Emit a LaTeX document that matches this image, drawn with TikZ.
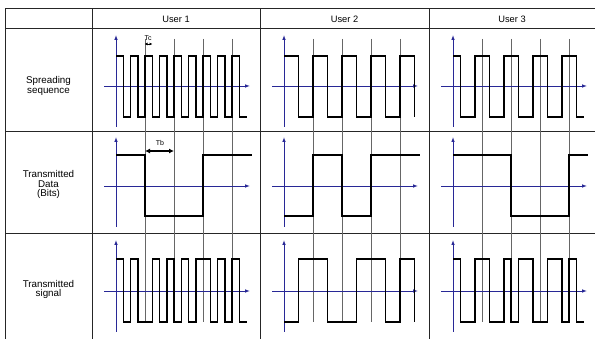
\documentclass[tikz,border=0pt]{standalone}
\usepackage{fontspec}
\setmainfont{Liberation Sans}
\usetikzlibrary{arrows.meta}
\definecolor{axisblue}{RGB}{40,40,150}
\tikzset{
  tableline/.style={line width=1pt, draw=black!85},
  gridline/.style={line width=0.7pt, draw=black!60},
  axisline/.style={line width=0.9pt, draw=axisblue, -{Latex[length=5pt,width=3.6pt]}},
  wave/.style={line width=1.5pt, draw=black, line join=miter},
  hdr/.style={font=\fontsize{9.3}{9.5}\selectfont, inner sep=0pt},
  rowlbl/.style={font=\fontsize{9.8}{9.6}\selectfont, align=center, inner sep=0pt},
  smalllbl/.style={font=\fontsize{7}{7}\selectfont, inner sep=0pt},
}
\begin{document}
\begin{tikzpicture}[x=1pt,y=-1pt]
\useasboundingbox (0,0) rectangle (595,339);
\fill[white] (0,0) rectangle (595,339);

% table
\draw[tableline] (5,9) -- (595,9);
\draw[tableline] (5,29) -- (595,29);
\draw[tableline] (5,132) -- (595,132);
\draw[tableline] (5,233.5) -- (595,233.5);
\foreach \xx in {5,92,260,429} \draw[tableline] (\xx,9) -- (\xx,339);

% headers
\node[hdr] (u1) at (176,19.5) {User 1};
\node[hdr] (u2) at (344.5,19.5) {User 2};
\node[hdr] (u3) at (512,19.5) {User 3};
\node[rowlbl] (r1) at (48.5,86) {Spreading\\sequence};
\node[rowlbl] (r2) at (48.5,184.5) {Transmitted\\Data\\(Bits)};
\node[rowlbl] (r3) at (48.5,289.5) {Transmitted\\signal};

% grid lines
\foreach \xo in {116,284,453}
  \foreach \k in {1,2,3,4}
    \draw[gridline] ({\xo+29*\k},39) -- ({\xo+29*\k},322);

% axes
\foreach \xo in {116,284,453}{
  \draw[axisline] (\xo,127) -- (\xo,35);
  \draw[axisline] ({\xo-12},86) -- ({\xo+134},86);
  \draw[axisline] (\xo,227) -- (\xo,137);
  \draw[axisline] ({\xo-12},186) -- ({\xo+134},186);
  \draw[axisline] (\xo,332) -- (\xo,240);
  \draw[axisline] ({\xo-12},291) -- ({\xo+134},291);
}

% row 1: spreading sequences
\draw[wave] (116,56)
  -- ++(7.25,0) -- ++(0,61) -- ++(7.25,0) -- ++(0,-61)
  -- ++(7.25,0) -- ++(0,61) -- ++(7.25,0) -- ++(0,-61)
  -- ++(7.25,0) -- ++(0,61) -- ++(7.25,0) -- ++(0,-61)
  -- ++(7.25,0) -- ++(0,61) -- ++(7.25,0) -- ++(0,-61)
  -- ++(7.25,0) -- ++(0,61) -- ++(7.25,0) -- ++(0,-61)
  -- ++(7.25,0) -- ++(0,61) -- ++(7.25,0) -- ++(0,-61)
  -- ++(7.25,0) -- ++(0,61) -- ++(7.25,0) -- ++(0,-61)
  -- ++(7.25,0) -- ++(0,61) -- ++(7.25,0) -- ++(0,-61)
  -- ++(7.25,0) -- ++(0,61) -- ++(7.25,0);
\draw[wave] (284,56)
  -- ++(14.5,0) -- ++(0,61) -- ++(14.5,0) -- ++(0,-61)
  -- ++(14.5,0) -- ++(0,61) -- ++(14.5,0) -- ++(0,-61)
  -- ++(14.5,0) -- ++(0,61) -- ++(14.5,0) -- ++(0,-61)
  -- ++(14.5,0) -- ++(0,61) -- ++(14.5,0) -- ++(0,-61)
  -- ++(14.5,0) -- ++(0,61);
\draw[wave] (453,56)
  -- ++(7.25,0) -- ++(0,61)
  -- ++(14.5,0) -- ++(0,-61) -- ++(14.5,0) -- ++(0,61)
  -- ++(14.5,0) -- ++(0,-61) -- ++(14.5,0) -- ++(0,61)
  -- ++(14.5,0) -- ++(0,-61) -- ++(14.5,0) -- ++(0,61)
  -- ++(14.5,0) -- ++(0,-61) -- ++(14.5,0) -- ++(0,61)
  -- ++(7.25,0);

% row 2: data
\draw[wave] (116,155) -- (145,155) -- (145,216) -- (203,216) -- (203,155) -- (252,155);
\draw[wave] (284,216) -- (313,216) -- (313,155) -- (342,155) -- (342,216) -- (371,216) -- (371,155) -- (420,155);
\draw[wave] (453,155) -- (511,155) -- (511,216) -- (569,216) -- (569,155) -- (588,155);

% row 3: transmitted signals
\draw[wave] (116,259)
  -- ++(7.25,0) -- ++(0,63)
  -- ++(7.25,0) -- ++(0,-63)
  -- ++(7.25,0) -- ++(0,63)
  -- ++(14.5,0) -- ++(0,-63)
  -- ++(7.25,0) -- ++(0,63)
  -- ++(7.25,0) -- ++(0,-63)
  -- ++(7.25,0) -- ++(0,63)
  -- ++(7.25,0) -- ++(0,-63)
  -- ++(7.25,0) -- ++(0,63)
  -- ++(7.25,0) -- ++(0,-63)
  -- ++(14.5,0) -- ++(0,63)
  -- ++(7.25,0) -- ++(0,-63)
  -- ++(7.25,0) -- ++(0,63)
  -- ++(7.25,0) -- ++(0,-63)
  -- ++(7.25,0) -- ++(0,63)
  -- ++(7.25,0);
\draw[wave] (284,322)
  -- ++(14.5,0) -- ++(0,-63)
  -- ++(29,0) -- ++(0,63)
  -- ++(29,0) -- ++(0,-63)
  -- ++(29,0) -- ++(0,63)
  -- ++(14.5,0) -- ++(0,-63)
  -- ++(14.5,0) -- ++(0,63);
\draw[wave] (453,259)
  -- ++(7.25,0) -- ++(0,63)
  -- ++(14.5,0) -- ++(0,-63)
  -- ++(14.5,0) -- ++(0,63)
  -- ++(14.5,0) -- ++(0,-63)
  -- ++(7.25,0) -- ++(0,63)
  -- ++(7.25,0) -- ++(0,-63)
  -- ++(14.5,0) -- ++(0,63)
  -- ++(14.5,0) -- ++(0,-63)
  -- ++(14.5,0) -- ++(0,63)
  -- ++(7.25,0) -- ++(0,-63)
  -- ++(7.25,0) -- ++(0,63)
  -- ++(7.25,0);

% Tc and Tb markers
\coordinate (tca) at (144.5,44);
\coordinate (tcb) at (152.5,44);
\draw[line width=0.8pt, {Latex[length=3pt,width=3pt]}-{Latex[length=3pt,width=3pt]}] (tca) -- (tcb);
\node[smalllbl] (tc) at (148,38) {Tc};
\coordinate (tba) at (145,151);
\coordinate (tbb) at (174,151);
\draw[line width=1.2pt, {Latex[length=5pt,width=5pt]}-{Latex[length=5pt,width=5pt]}] (tba) -- (tbb);
\node[smalllbl] (tb) at (160,143.5) {Tb};
\end{tikzpicture}
\end{document}
